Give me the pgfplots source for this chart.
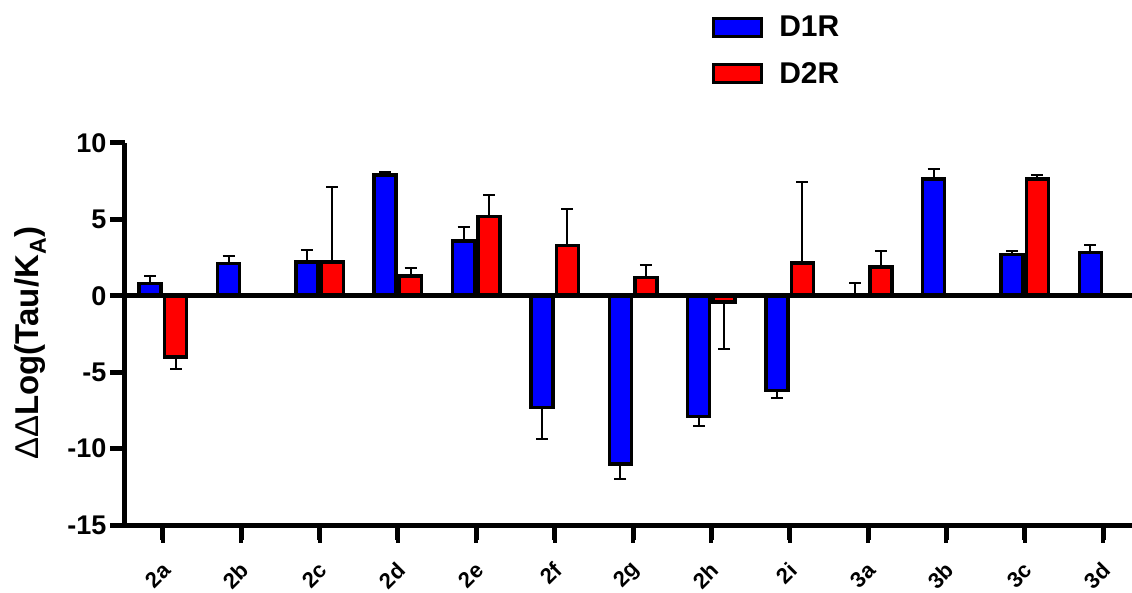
\documentclass[border=0pt]{standalone}
\usepackage{fontspec}
\setmainfont{Liberation Sans}
\usepackage{pgfplots}
\pgfplotsset{compat=1.18}
\usetikzlibrary{calc}

\definecolor{dblue}{RGB}{0,0,255}
\definecolor{dred}{RGB}{255,0,0}

\begin{document}
\begin{tikzpicture}
\begin{axis}[
    name=ax,
    at={(0pt,0pt)}, anchor=south west,
    scale only axis,
    width=1007pt, height=382pt,
    xmin=-0.485, xmax=12.37,
    ymin=-15, ymax=10,
    ybar=0pt,
    bar width=22pt,
    axis lines*=left,
    axis line style={line width=5pt},
    clip=false,
    tick align=outside,
    major tick length=15pt,
    every tick/.style={line width=5pt, black},
    xtick={0,...,12},
    xticklabels={2a,2b,2c,2d,2e,2f,2g,2h,2i,3a,3b,3c,3d},
    ytick={-15,-10,-5,0,5,10},
    /pgf/number format/assume math mode=true,
    yticklabel style={font=\fontsize{27}{27}\selectfont\bfseries},
    xticklabel style={font=\fontsize{22}{22}\selectfont\bfseries,
        xshift=6pt, yshift=-24pt, rotate=45, anchor=east},
    ylabel={{\mdseries ΔΔ}Log(Tau/K\textsubscript{A})},
    ylabel style={font=\fontsize{33}{33}\selectfont\bfseries, at={(axis description cs:-0.094,0.476)}, anchor=center},
    error bars/y dir=both,
    error bars/y explicit,
    error bars/error bar style={line width=2pt, black},
    error bars/error mark options={line width=2pt, black, mark size=6pt, rotate=90},
    legend style={at={(0.583,1.338)}, anchor=north west, draw=none, fill=none,
        font=\fontsize{30}{30}\selectfont\bfseries, row sep=20pt,
        inner sep=0pt, legend cell align=left,
        /tikz/every odd column/.append style={column sep=14pt}},
    legend image code/.code={\draw[#1, line width=3pt] (0pt,-9pt) rectangle (48pt,9pt);},
]
\addplot[fill=dblue, draw=black, line width=3.5pt, bar shift=-12.75pt] coordinates {
    (0,0.8) += (0,0.5) -= (0,0)
    (1,2.1) += (0,0.5) -= (0,0)
    (2,2.2) += (0,0.8) -= (0,0)
    (3,7.9) += (0,0.2) -= (0,0)
    (4,3.6) += (0,0.9) -= (0,0)
    (5,-7.3) += (0,0) -= (0,2.1)
    (6,-11.0) += (0,0) -= (0,1.0)
    (7,-7.9) += (0,0) -= (0,0.65)
    (8,-6.2) += (0,0) -= (0,0.5)
    (9,0) += (0,0.85) -= (0,0)
    (10,7.65) += (0,0.65) -= (0,0)
    (11,2.7) += (0,0.25) -= (0,0)
    (12,2.85) += (0,0.45) -= (0,0)
};
\addlegendentry{D1R}
\addplot[fill=dred, draw=black, line width=3.5pt, bar shift=12.75pt] coordinates {
    (0,-4.0) += (0,0) -= (0,0.8)
    (2,2.2) += (0,4.9) -= (0,0)
    (3,1.3) += (0,0.5) -= (0,0)
    (4,5.2) += (0,1.4) -= (0,0)
    (5,3.3) += (0,2.4) -= (0,0)
    (6,1.2) += (0,0.8) -= (0,0)
    (7,-0.4) += (0,0) -= (0,3.1)
    (8,2.15) += (0,5.3) -= (0,0)
    (9,1.9) += (0,1.0) -= (0,0)
    (11,7.65) += (0,0.25) -= (0,0)
};
\addlegendentry{D2R}
\draw[line width=5pt] (rel axis cs:0,0.6) -- (rel axis cs:1,0.6);
\end{axis}
% category tick marks under the bottom axis line
\foreach \i in {0,...,12}{
    \draw[line width=4pt, black]
        ($(ax.south west)!{(\i+0.485)/12.855}!(ax.south east)$) -- ++(0pt,-18pt);
}
\pgfresetboundingbox
\path[use as bounding box] (-125pt,-67pt) rectangle (1007pt,525pt);
\end{tikzpicture}
\end{document}
